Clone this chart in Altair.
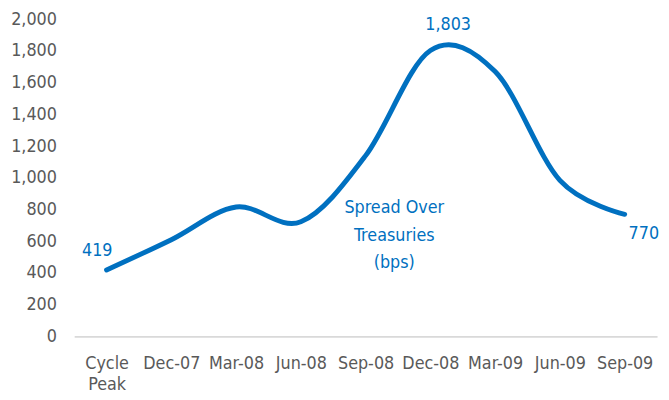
import altair as alt
import pandas as pd

categories = ["Cycle Peak", "Dec-07", "Mar-08", "Jun-08", "Sep-08", "Dec-08", "Mar-09", "Jun-09", "Sep-09"]
spread_bps = [419, 610, 816, 723, 1140, 1803, 1670, 984, 770]
y_ticks = [0, 200, 400, 600, 800, 1000, 1200, 1400, 1600, 1800, 2000]
series_label = "Spread Over\nTreasuries\n(bps)"

df = pd.DataFrame({"cat": categories, "val": spread_bps})
df["lbl"] = [f"{v:,}" for v in spread_bps]

BLUE = "#0070C0"
FONT = "'Noto Sans Condensed', 'DejaVu Sans Condensed', Roboto, sans-serif"
FS = 18

x_axis = alt.Axis(
    title=None,
    labelAngle=0,
    ticks=False,
    domain=True,
    domainColor="#d9d9d9",
    domainWidth=2,
    grid=False,
    labelOverlap=False,
    labelPadding=19,
    labelFontSize=FS,
    labelFont=FONT,
    labelColor="#595959",
    labelLineHeight=21,
    labelExpr="datum.value == 'Cycle Peak' ? ['Cycle', 'Peak'] : datum.value",
)
y_axis = alt.Axis(
    title=None,
    values=y_ticks,
    format=",.0f",
    labelOverlap=False,
    ticks=False,
    domain=False,
    grid=False,
    labelPadding=18,
    labelFontSize=FS,
    labelFont=FONT,
    labelColor="#595959",
)

def x_enc():
    return alt.X("cat:N", sort=categories, scale=alt.Scale(type="point", padding=0.5), axis=x_axis)

def y_enc():
    return alt.Y("val:Q", scale=alt.Scale(domain=[0, 2000], nice=False), axis=y_axis)

line = alt.Chart(df).mark_line(
    color=BLUE, strokeWidth=5, interpolate="cardinal", strokeCap="round"
).encode(x=x_enc(), y=y_enc())

def point_label(cat, align, dx, dy):
    return alt.Chart(df).transform_filter(alt.datum.cat == cat).mark_text(
        color=BLUE, font=FONT, fontSize=FS, align=align, baseline="middle", dx=dx, dy=dy
    ).encode(x=x_enc(), y=y_enc(), text="lbl:N")

lbl_first = point_label("Cycle Peak", "right", 6, -19)
lbl_peak = point_label("Dec-08", "center", 18, -26)
lbl_last = point_label("Sep-09", "left", 4, 20)

ann_df = pd.DataFrame({"cat": ["Sep-08"], "val": [810], "t": [series_label]})
ann = alt.Chart(ann_df).mark_text(
    color=BLUE, font=FONT, fontSize=FS, align="center", baseline="middle",
    lineBreak="\n", lineHeight=28, dx=29
).encode(x=x_enc(), y=y_enc(), text="t:N")

chart = alt.layer(line, lbl_first, lbl_peak, lbl_last, ann).properties(
    width=590,
    height=321,
    autosize=alt.AutoSizeParams(type="none"),
    padding={"left": 67, "top": 9, "right": 4, "bottom": 62},
).configure_view(stroke=None)

chart.save("out.html", embed_options={"renderer": "svg", "actions": False})
